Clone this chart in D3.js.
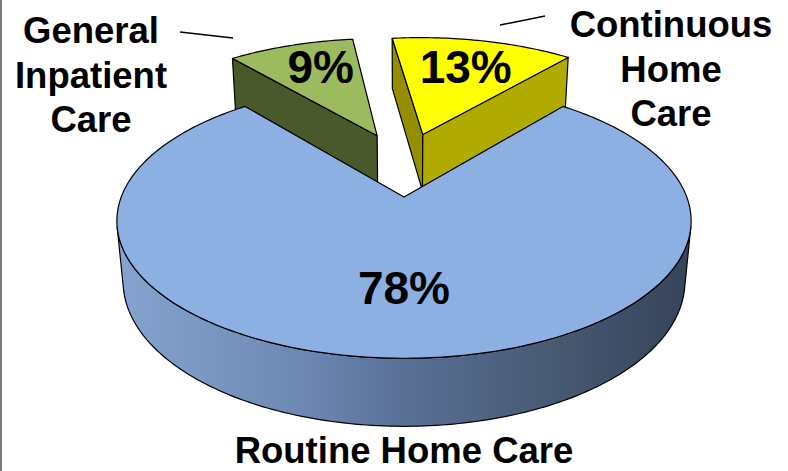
<!DOCTYPE html>
<html lang="en">
<head>
<meta charset="UTF-8">
<title>Hospice days by level of care</title>
<style>
  body { margin: 0; background: #fff; }
  svg { display: block; }
  text { font-family: "Liberation Sans", Arial, sans-serif; font-weight: bold; fill: #000; }
</style>
</head>
<body>
<svg width="788" height="471"></svg>
<script src="https://cdn.jsdelivr.net/npm/d3@7/dist/d3.min.js"></script>
<script>
  // slices run clockwise, starting a little left of 12 o'clock
  const categories = ['Continuous Home Care', 'Routine Home Care', 'General Inpatient Care'];
  const values = [13, 78, 9];
  const percentLabels = ['13%', '78%', '9%'];
  const nameLines = [['Continuous', 'Home', 'Care'], ['Routine Home Care'], ['General', 'Inpatient', 'Care']];
  const startDeg = -7.2;

  const topColors = ['#ffff00', '#8db0e3', '#9cba5e'];
  const sideColors = ['#b1ab00', '#5d77a0', '#4a592b'];
  const startFaceColors = ['#948f00', '#5d77a0', '#4a592b'];
  const endFaceColors = ['#b1ab00', '#5d77a0', '#6b803c'];

  const svg = d3.select('svg');

  // left frame line
  svg.append('line')
    .attr('x1', 1).attr('y1', 0).attr('x2', 1).attr('y2', 471)
    .attr('stroke', '#7a7a7a').attr('stroke-width', 2);

  // camera looking down on a pie of radius 1
  const cx = 404, cy = 163.8;
  const phi = 26.8 * Math.PI / 180;
  const dist = 5.36;
  const focal = 270.5 * dist;
  const thick = 0.245;
  const explode = 0.26;
  const cam = [0, dist * Math.sin(phi), -dist * Math.cos(phi)];

  function project(x, y, z) {
    const d = dist - y * Math.sin(phi) + z * Math.cos(phi);
    const v = y * Math.cos(phi) + z * Math.sin(phi);
    return [cx + focal * x / d, cy - focal * v / d];
  }

  const pie = d3.pie().sort(null).value(d => d)
    .startAngle(startDeg * Math.PI / 180)
    .endAngle((startDeg + 360) * Math.PI / 180);

  const arcs = pie(values).map((a, i) => {
    const mid = (a.startAngle + a.endAngle) / 2;
    return Object.assign(a, {
      i: i,
      mid: mid,
      ox: explode * Math.sin(mid),
      oz: explode * Math.cos(mid)
    });
  });

  const line = d3.line();

  const defs = svg.append('defs');
  const grad = defs.append('linearGradient')
    .attr('id', 'blueSide')
    .attr('gradientUnits', 'userSpaceOnUse')
    .attr('x1', 117).attr('x2', 692).attr('y1', 0).attr('y2', 0);
  grad.selectAll('stop')
    .data([['0%', '#86a4d0'], ['32%', '#6d88b3'], ['52%', '#586e93'], ['78%', '#465770'], ['100%', '#36435a']])
    .join('stop')
    .attr('offset', d => d[0])
    .attr('stop-color', d => d[1]);

  function rim(a, y) {
    const n = Math.max(2, Math.ceil((a.endAngle - a.startAngle) / (Math.PI / 180)));
    return d3.range(n + 1).map(k => {
      const t = a.startAngle + (a.endAngle - a.startAngle) * k / n;
      return { t: t, p: project(a.ox + Math.sin(t), y, a.oz + Math.cos(t)) };
    });
  }

  function faces(a, nx, nz) {
    // outward normal (nx, 0, nz) at the apex, is it facing the camera?
    return nx * (cam[0] - a.ox) + nz * (cam[2] - a.oz) > 0;
  }

  const g = svg.append('g');
  const order = arcs.slice().sort((p, q) => q.oz - p.oz);

  order.forEach(a => {
    const sg = g.append('g').attr('class', 'slice');
    const top = rim(a, 0);
    const bot = rim(a, -thick);
    const apexT = project(a.ox, 0, a.oz);
    const apexB = project(a.ox, -thick, a.oz);

    // flat cut faces
    const cuts = [
      { t: a.startAngle, nx: -Math.cos(a.startAngle), nz: Math.sin(a.startAngle), c: startFaceColors[a.i] },
      { t: a.endAngle, nx: Math.cos(a.endAngle), nz: -Math.sin(a.endAngle), c: endFaceColors[a.i] }
    ];
    cuts.filter(f => faces(a, f.nx, f.nz)).forEach(f => {
      const x = a.ox + Math.sin(f.t), z = a.oz + Math.cos(f.t);
      sg.append('path')
        .attr('d', line([apexT, project(x, 0, z), project(x, -thick, z), apexB]) + 'Z')
        .attr('fill', f.c)
        .attr('stroke', '#000').attr('stroke-width', 1.2).attr('stroke-linejoin', 'round');
    });

    // curved outer wall, only the runs that face the camera
    const runs = [];
    let cur = null;
    for (let k = 0; k < top.length - 1; k++) {
      const tm = (top[k].t + top[k + 1].t) / 2;
      const px = a.ox + Math.sin(tm), pz = a.oz + Math.cos(tm);
      const vis = Math.sin(tm) * (cam[0] - px) + Math.cos(tm) * (cam[2] - pz) > 0;
      if (vis) {
        if (!cur) { cur = [k, k + 1]; runs.push(cur); } else cur[1] = k + 1;
      } else cur = null;
    }
    runs.forEach(r => {
      const upper = top.slice(r[0], r[1] + 1).map(d => d.p);
      const lower = bot.slice(r[0], r[1] + 1).map(d => d.p).reverse();
      sg.append('path')
        .attr('d', line(upper.concat(lower)) + 'Z')
        .attr('fill', a.i === 1 ? 'url(#blueSide)' : sideColors[a.i])
        .attr('stroke', '#000').attr('stroke-width', 1.2).attr('stroke-linejoin', 'round');
    });

    // top face
    sg.append('path')
      .attr('d', line([apexT].concat(top.map(d => d.p))) + 'Z')
      .attr('fill', topColors[a.i])
      .attr('stroke', '#000').attr('stroke-width', 1.2).attr('stroke-linejoin', 'round');
  });

  // percentage labels on the top faces
  const labelR = [0.68, 0.6, 0.62];
  const labelNudge = [-1, 2, -10];
  function labelAt(a) {
    const r = labelR[a.i];
    const p = project(a.ox + r * Math.sin(a.mid), 0, a.oz + r * Math.cos(a.mid));
    return [p[0], p[1] + labelNudge[a.i]];
  }
  g.selectAll('text.pct')
    .data(arcs)
    .join('text')
    .attr('class', 'pct')
    .attr('text-anchor', 'middle')
    .attr('dy', '0.35em')
    .style('font-size', '46px')
    .attr('x', a => labelAt(a)[0])
    .attr('y', a => labelAt(a)[1])
    .text(a => percentLabels[a.i]);

  // category names
  const namePos = [
    { x: 671, y: 37, leader: [[500, 25], [545, 16]] },
    { x: 404, y: 463, leader: null },
    { x: 91, y: 43, leader: [[180, 32], [233, 38]] }
  ];
  categories.forEach((c, i) => {
    const t = svg.append('text')
      .attr('text-anchor', 'middle')
      .style('font-size', '36.5px')
      .attr('aria-label', c);
    nameLines[i].forEach((ln, j) => {
      t.append('tspan')
        .attr('x', namePos[i].x)
        .attr('y', namePos[i].y + j * 44.5)
        .text(ln);
    });
    if (namePos[i].leader) {
      svg.append('path')
        .attr('d', line(namePos[i].leader))
        .attr('stroke', '#000').attr('stroke-width', 1.5);
    }
  });
</script>
</body>
</html>
